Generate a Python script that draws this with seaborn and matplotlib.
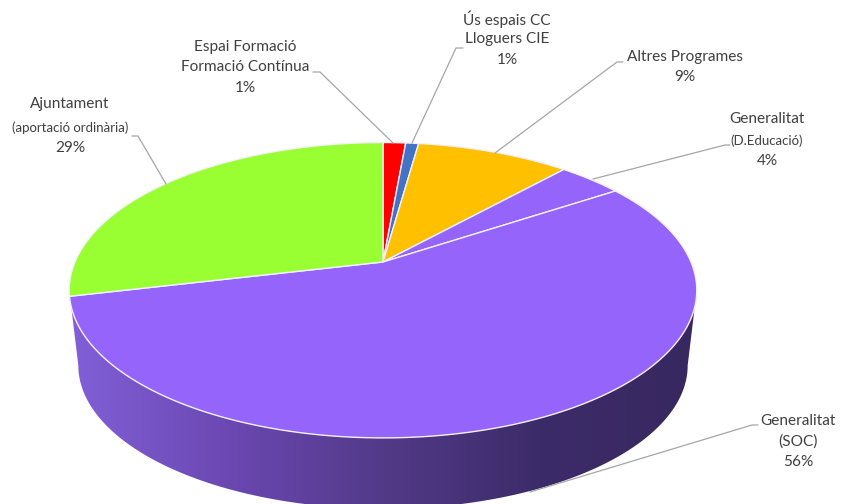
import numpy as np
import pandas as pd
import matplotlib
matplotlib.use("Agg")
import matplotlib.pyplot as plt
import seaborn as sns
from matplotlib.patches import Polygon

# data, clockwise from the top of the pie
slices = ["Espai Formació", "Ús espais CC", "Altres Programes",
          "Generalitat (D.Educació)", "Generalitat (SOC)", "Ajuntament"]
shares = [1.4, 0.8, 9.49, 4.01, 55.6, 28.7]
slice_colors = ["#FF0000", "#4472C4", "#FFC000", "#9564FB", "#9564FB", "#99FF33"]
wall_colors = ["#8160D8", "#6B48B2", "#533A88", "#3C2B69", "#382860"]

df = pd.DataFrame({"slice": slices, "share": shares})
pct = [f"{v:.0f}%" for v in df["share"]]

# label lines: text, x, y, small?
label_lines = [
    ("Espai Formació", 245, 47, False), ("Formació Contínua", 245, 67, False), (pct[0], 245, 88, False),
    ("Ús espais CC", 507, 19, False), ("Lloguers CIE", 507, 39, False), (pct[1], 507, 60, False),
    ("Altres Programes", 685, 57, False), (pct[2], 685, 77, False),
    ("Generalitat", 767, 119, False), ("(D.Educació)", 767, 141, True), (pct[3], 767, 161, False),
    ("Generalitat", 798, 421, False), ("(SOC)", 798, 442, False), (pct[4], 798, 462, False),
    ("Ajuntament", 70, 104, False), ("(aportació ordinària)", 70, 128, True), (pct[5], 70, 148, False),
]
leaders = [
    [(313, 72), (320, 72), (393, 143)],
    [(463, 48), (456, 48), (412, 143)],
    [(623, 62), (617, 62), (495, 153)],
    [(730, 145), (725, 145), (593, 179)],
    [(758, 425), (752, 425), (530, 492)],
    [(132, 136), (138, 136), (166, 184)],
]

# perspective of the tilted disc, in pixels
CX, CY = 383, 262
R, A, K = 308, 142.3, 0.191
WALL_SCALE, WALL_CY = 0.971, 338


def project(x, y, cy=CY, scale=1.0):
    w = 1 + K * y
    return np.column_stack([CX + scale * R * x / w, cy - scale * A * y / w])


def arc(t1, t2, cy=CY, scale=1.0, n=200):
    t = np.radians(np.linspace(t1, t2, n))
    return project(np.cos(t), np.sin(t), cy, scale)


sns.set_theme(style="white")
plt.rcParams["font.family"] = ["Lato", "DejaVu Sans"]

fig = plt.figure(figsize=(8.41, 5.04), dpi=100)
ax = fig.add_axes([0, 0, 1, 1])

wedges, _ = ax.pie(df["share"], colors=slice_colors, startangle=90, counterclock=False)

# side wall with a left to right shading
t0 = np.degrees(np.arcsin(K))
wall_xy = np.vstack([arc(180 + t0, 360 - t0), arc(360 - t0, 180 + t0, WALL_CY, WALL_SCALE)])
wall = Polygon(wall_xy, closed=True, fc="none", ec="none", transform=ax.transData)
ax.add_patch(wall)
wall_cmap = sns.blend_palette(wall_colors, as_cmap=True)
img = ax.imshow(np.linspace(0, 1, 256)[None, :], extent=(69, 697, 520, 280),
                aspect="auto", cmap=wall_cmap, zorder=1)
img.set_clip_path(wall)

# top face: the pie's wedges put through the perspective
for w in wedges:
    xy = np.vstack([[0, 0], np.column_stack([
        np.cos(np.radians(np.linspace(w.theta1, w.theta2, 200))),
        np.sin(np.radians(np.linspace(w.theta1, w.theta2, 200)))])])
    ax.add_patch(Polygon(project(xy[:, 0], xy[:, 1]), closed=True, fc=w.get_facecolor(),
                         ec="#F4F0FA", lw=1.0, joinstyle="round", zorder=2))
    w.remove()

for pts in leaders:
    ax.plot(*zip(*pts), color="#A6A6A6", lw=0.9, zorder=3)

for text, x, y, small in label_lines:
    ax.text(x, y, text, ha="center", va="center", color="#404040",
            fontsize=9.5 if small else 11.1, zorder=4)

ax.set_aspect("auto")
ax.set_xlim(0, 841)
ax.set_ylim(504, 0)
ax.axis("off")

fig.savefig("out.png", dpi=100, facecolor="white")
